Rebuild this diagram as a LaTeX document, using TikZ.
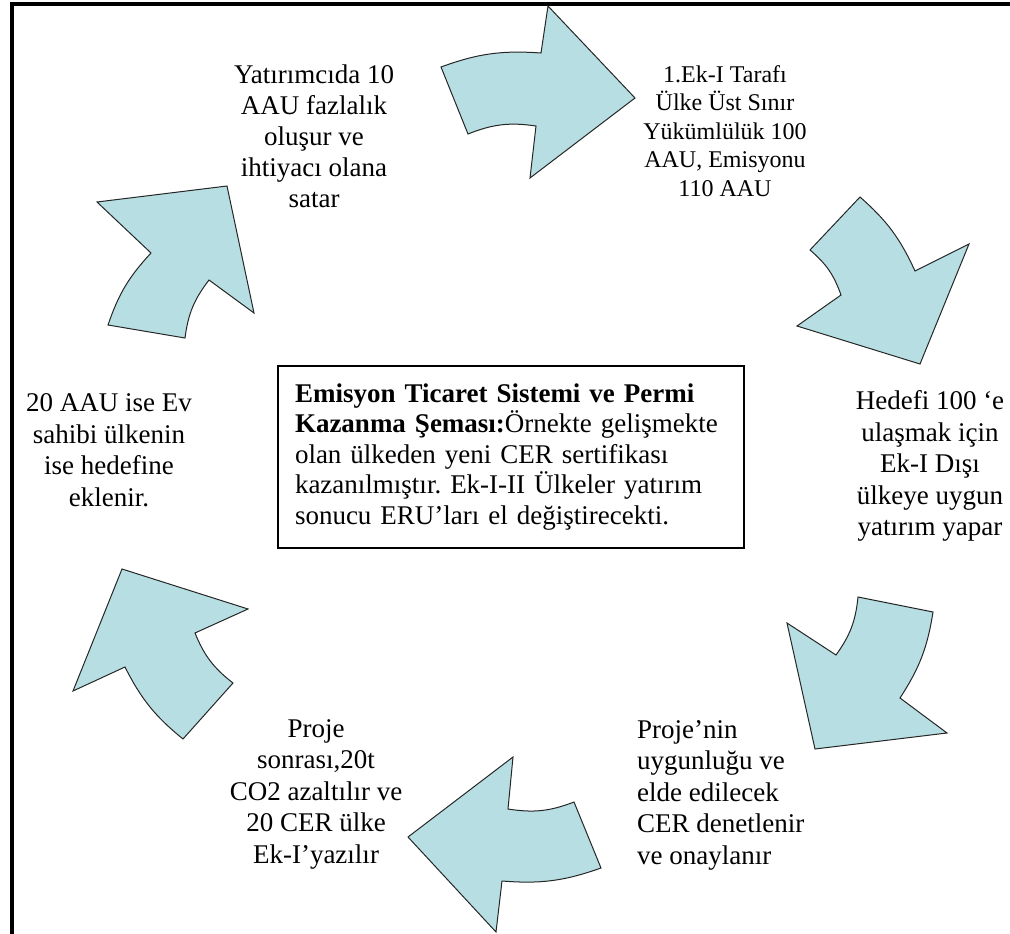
\documentclass[tikz,border=0pt]{standalone}
\usepackage{fontspec}
\setmainfont{Liberation Serif}
\definecolor{arrowfill}{RGB}{183,223,227}

\begin{document}
\begin{tikzpicture}[
  x=1pt, y=-1pt,
  every node/.style={font=\fontsize{27}{31.5}\selectfont\frenchspacing},
  txt/.style={align=center, inner sep=0pt},
  blockarrow/.style={draw=black!85, line width=1pt, fill=arrowfill, line join=miter},
  summary/.style={draw, line width=1.5pt, align=left, text width=432pt,
                  minimum width=466pt, minimum height=182pt, inner xsep=17pt},
]
\useasboundingbox (0,0) rectangle (1010,934);
% frame
\draw[line width=4pt] (1010,4) -- (12,4) -- (12,934);

% cycle arrows
\draw[blockarrow] (441,67) to[bend left=12] (541,53) -- (548,6) -- (635,98) -- (530,178)
  -- (536,126) to[bend right=15] (468,134) -- cycle;
\draw[blockarrow] (860,197) to[bend left=12] (915,271) -- (969,244) -- (920,364) -- (797,326)
  -- (841,295) to[bend right=15] (810,250) -- cycle;
\draw[blockarrow] (933,612) to[bend left=12] (900,698) -- (947,733) -- (815,749) -- (787,623)
  -- (836,655) to[bend right=15] (858,597) -- cycle;
\draw[blockarrow] (601,868) to[bend left=12] (502,881) -- (496,932) -- (408,837) -- (513,757)
  -- (508,809) to[bend right=15] (574,802) -- cycle;
\draw[blockarrow] (183,739) to[bend left=12] (125,667) -- (73,691) -- (122,569) -- (248,609)
  -- (195,633) to[bend right=15] (233,683) -- cycle;
\draw[blockarrow] (108,325) to[bend left=12] (151,253) -- (97,202) -- (227,186) -- (254,313)
  -- (209,280) to[bend right=15] (185,338) -- cycle;

% steps
\node[txt, font=\fontsize{27}{31}\selectfont] (seller) at (314,136)
  {Yatırımcıda 10\\AAU fazlalık\\oluşur ve\\ihtiyacı olana\\satar};
\node[txt, font=\fontsize{24}{28.5}\selectfont] (annex) at (725,131)
  {1.Ek-I Tarafı\\Ülke Üst Sınır\\Yükümlülük 100\\AAU, Emisyonu\\110 AAU};
\node[txt] (target) at (930,466) {Hedefi 100 ‘e\\ulaşmak için\\Ek-I Dışı\\ülkeye uygun\\yatırım yapar};
\node[txt] (approve) [align=left, anchor=west] at (637,795)
  {Proje’nin\\uygunluğu ve\\elde edilecek\\CER denetlenir\\ve onaylanır};
\node[txt] (reduce) at (316,794) {Proje\\sonrası,20t\\CO2 azaltılır ve\\20 CER ülke\\Ek-I’yazılır};
\node[txt] (host) at (109,450) {20 AAU ise Ev\\sahibi ülkenin\\ise hedefine\\eklenir.};

% centre box
\node[summary, font=\fontsize{27}{30.5}\selectfont\frenchspacing] (scheme) at (511,457)
  {\textbf{Emisyon Ticaret Sistemi ve Permi}\\\textbf{Kazanma Şeması:}Örnekte gelişmekte\\
   olan ülkeden yeni CER sertifikası\\kazanılmıştır. Ek-I-II Ülkeler yatırım\\
   sonucu ERU’ları el değiştirecekti.};
\end{tikzpicture}
\end{document}
